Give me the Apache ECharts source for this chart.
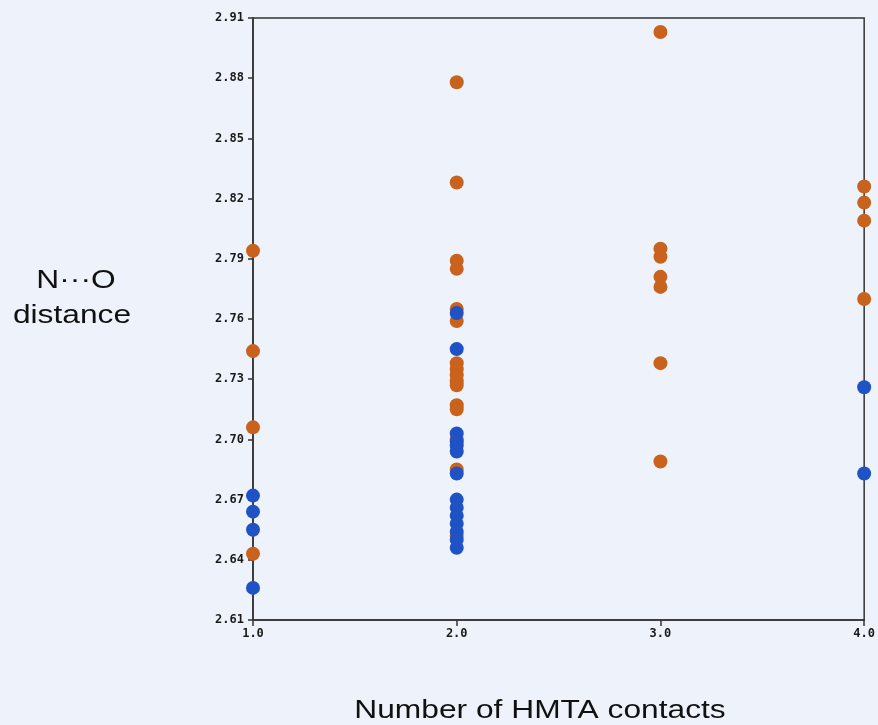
<!DOCTYPE html>
<html>
<head>
<meta charset="utf-8">
<script src="https://cdn.jsdelivr.net/npm/echarts@6/dist/echarts.min.js"></script>
<style>
html,body{margin:0;padding:0;background:#eef3fb;}
#chart{width:878px;height:725px;}
</style>
</head>
<body>
<div id="chart"></div>
<script>
// Data
const xTicks = [1, 2, 3, 4];
const yTicks = [2.61, 2.64, 2.67, 2.70, 2.73, 2.76, 2.79, 2.82, 2.85, 2.88, 2.91];

const orangeX = [1, 1, 1, 1,
  2, 2, 2, 2, 2, 2, 2, 2, 2, 2, 2, 2, 2, 2, 2, 2,
  3, 3, 3, 3, 3, 3, 3,
  4, 4, 4, 4];
const orangeY = [2.794, 2.744, 2.706, 2.643,
  2.878, 2.828, 2.789, 2.785, 2.765, 2.759, 2.738, 2.735, 2.732, 2.729, 2.727, 2.717, 2.715, 2.685, 2.652, 2.700,
  2.903, 2.795, 2.791, 2.781, 2.776, 2.738, 2.689,
  2.826, 2.818, 2.809, 2.770];

const blueX = [1, 1, 1, 1,
  2, 2, 2, 2, 2, 2, 2, 2, 2, 2, 2, 2, 2, 2,
  4, 4];
const blueY = [2.672, 2.664, 2.655, 2.626,
  2.763, 2.745, 2.703, 2.699, 2.697, 2.694, 2.683, 2.670, 2.666, 2.662, 2.658, 2.654, 2.650, 2.646,
  2.726, 2.683];

const orangeData = orangeX.map((x, i) => [x, orangeY[i]]);
const blueData = blueX.map((x, i) => [x, blueY[i]]);

const chart = echarts.init(document.getElementById('chart'), null, {renderer: 'canvas'});
const tickFont = {fontFamily: 'DejaVu Sans Mono', fontWeight: 'bold', fontSize: 12, color: '#1a1a1a'};
const titleStyle = {fontFamily: 'Liberation Sans, Arial', fontSize: 26, fill: '#111', align: 'center', verticalAlign: 'middle'};

chart.setOption({
  backgroundColor: '#eef3fb',
  animation: false,
  grid: {left: 253, right: 13, top: 18, bottom: 105, show: true, borderColor: '#333', borderWidth: 1.5, backgroundColor: 'transparent'},
  xAxis: {
    type: 'value', min: 1, max: 4, interval: 1,
    axisLine: {show: true, lineStyle: {color: '#333', width: 1.5}},
    axisTick: {show: true, length: 6, lineStyle: {color: '#333', width: 1.5}},
    splitLine: {show: false},
    axisLabel: Object.assign({margin: 8, formatter: v => xTicks.includes(v) ? v.toFixed(1) : ''}, tickFont)
  },
  yAxis: {
    type: 'value', min: 2.61, max: 2.91, interval: 0.03,
    axisLine: {show: true, lineStyle: {color: '#333', width: 1.5}},
    axisTick: {show: true, length: 5, lineStyle: {color: '#333', width: 1.5}},
    splitLine: {show: false},
    axisLabel: Object.assign({margin: 9, formatter: v => {
      const t = yTicks.find(y => Math.abs(y - v) < 1e-6);
      return t !== undefined ? t.toFixed(2) : '';
    }}, tickFont)
  },
  graphic: [
    {type: 'text', x: 76, y: 281, scaleX: 1.22, style: Object.assign({text: 'N\u00B7\u00B7\u00B7O'}, titleStyle)},
    {type: 'text', x: 72, y: 316, scaleX: 1.22, style: Object.assign({text: 'distance'}, titleStyle)},
    {type: 'text', x: 540, y: 711, scaleX: 1.22, style: Object.assign({text: 'Number of HMTA contacts'}, titleStyle)}
  ],
  series: [
    {type: 'scatter', name: 'orange', data: orangeData, symbol: 'circle', symbolSize: 14,
     itemStyle: {color: '#c8621c', opacity: 1}, z: 3},
    {type: 'scatter', name: 'blue', data: blueData, symbol: 'circle', symbolSize: 14,
     itemStyle: {color: '#1f52c4', opacity: 1}, z: 4}
  ]
});
</script>
</body>
</html>
